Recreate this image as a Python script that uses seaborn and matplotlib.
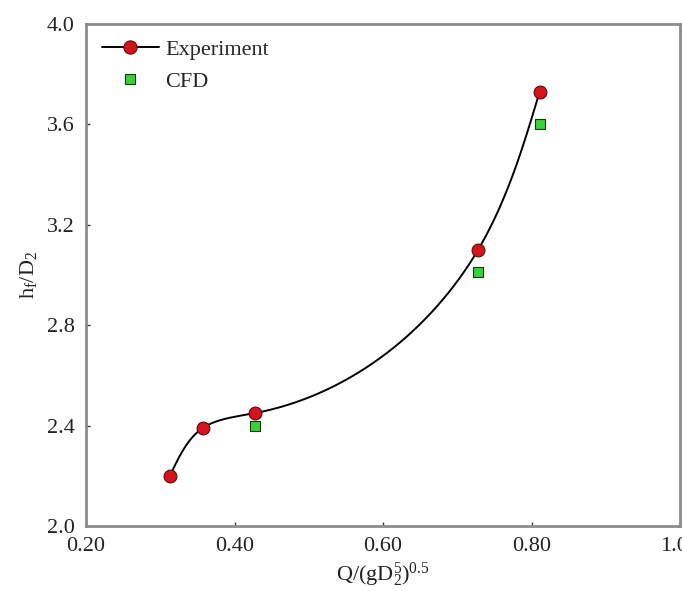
import numpy as np
import pandas as pd
import matplotlib
matplotlib.use("Agg")
import matplotlib.pyplot as plt
import seaborn as sns
from matplotlib.lines import Line2D

# data
exp_q = [0.313, 0.357, 0.428, 0.728, 0.811]
exp_h = [2.20, 2.39, 2.45, 3.10, 3.73]
cfd_q = [0.428, 0.728, 0.811]
cfd_h = [2.40, 3.01, 3.60]

x_ticks = [0.20, 0.40, 0.60, 0.80, 1.00]
x_tick_labels = ["0.20", "0.40", "0.60", "0.80", "1.00"]
y_ticks = [2.0, 2.4, 2.8, 3.2, 3.6, 4.0]
y_tick_labels = ["2.0", "2.4", "2.8", "3.2", "3.6", "4.0"]

red = "#d4141c"
red_edge = "#5c0a0a"
green = "#3ad13a"
green_edge = "#0d3d0d"

sns.set_style("ticks")
plt.rcParams["font.family"] = ["Liberation Serif", "DejaVu Serif"]
plt.rcParams["mathtext.default"] = "regular"

df_exp = pd.DataFrame({"q": exp_q, "h": exp_h})
df_cfd = pd.DataFrame({"q": cfd_q, "h": cfd_h})


def natural_spline(t, v, tt):
    # natural cubic spline through (t, v), evaluated at tt
    t = np.asarray(t, float)
    v = np.asarray(v, float)
    n = len(t)
    h = np.diff(t)
    d = np.diff(v) / h
    A = np.zeros((n, n))
    b = np.zeros(n)
    A[0, 0] = A[-1, -1] = 1
    for i in range(1, n - 1):
        A[i, i - 1] = h[i - 1]
        A[i, i] = 2 * (h[i - 1] + h[i])
        A[i, i + 1] = h[i]
        b[i] = 6 * (d[i] - d[i - 1])
    M = np.linalg.solve(A, b)
    idx = np.clip(np.searchsorted(t, tt) - 1, 0, n - 2)
    a = (t[idx + 1] - tt) / h[idx]
    c = 1 - a
    return (a * v[idx] + c * v[idx + 1]
            + ((a ** 3 - a) * M[idx] + (c ** 3 - c) * M[idx + 1]) * h[idx] ** 2 / 6)


fig = plt.figure(figsize=(6.82, 5.91), dpi=100)
ax = fig.add_axes([86 / 682, 1 - 526 / 591, 594 / 682, 502 / 591])
ax.set_xlim(0.2, 1.0)
ax.set_ylim(2.0, 4.0)

# smooth connecting line (parametric spline in screen space, like Origin's spline connect)
pts = ax.transData.transform(df_exp[["q", "h"]].to_numpy())
s = np.concatenate([[0], np.cumsum(np.hypot(*np.diff(pts, axis=0).T))])
ss = np.linspace(0, s[-1], 400)
curve = np.column_stack([natural_spline(s, pts[:, 0], ss), natural_spline(s, pts[:, 1], ss)])
curve = ax.transData.inverted().transform(curve)
sns.lineplot(x=curve[:, 0], y=curve[:, 1], sort=False, estimator=None,
             color="black", linewidth=1.4, ax=ax, zorder=2)

sns.scatterplot(data=df_exp, x="q", y="h", marker="o", s=85, color=red,
                edgecolor=red_edge, linewidth=0.8, ax=ax, zorder=3)
sns.scatterplot(data=df_cfd, x="q", y="h", marker="s", s=60, color=green,
                edgecolor=green_edge, linewidth=0.8, ax=ax, zorder=3)

ax.set_xticks(x_ticks)
ax.set_xticklabels(x_tick_labels)
ax.set_yticks(y_ticks)
ax.set_yticklabels(y_tick_labels)
ax.tick_params(direction="in", length=3, width=1, labelsize=16, colors="#333333",
               labelcolor="#222222")
ax.tick_params(axis="x", pad=8)
ax.tick_params(axis="y", pad=8)
for sp in ax.spines.values():
    sp.set_color("#8c8c8c")
    sp.set_linewidth(2)

ax.set_xlabel("Q/(gD$_2^5$)$^{0.5}$", fontsize=16, color="#222222", labelpad=3)
ax.set_ylabel("h$_f$/D$_2$", fontsize=16, color="#222222", labelpad=6)

handles = [
    Line2D([0], [0], color="black", lw=1.4, marker="o", markersize=9.5,
           markerfacecolor=red, markeredgecolor=red_edge, markeredgewidth=0.8),
    Line2D([0], [0], ls="none", marker="s", markersize=7.5,
           markerfacecolor=green, markeredgecolor=green_edge, markeredgewidth=0.8),
]
ax.legend(handles, ["Experiment", "CFD"], loc="upper left", frameon=False,
          fontsize=16, handlelength=2.6, handletextpad=0.25, labelspacing=0.5,
          borderaxespad=0.4, borderpad=0.3)

fig.savefig("out.png", dpi=100)
